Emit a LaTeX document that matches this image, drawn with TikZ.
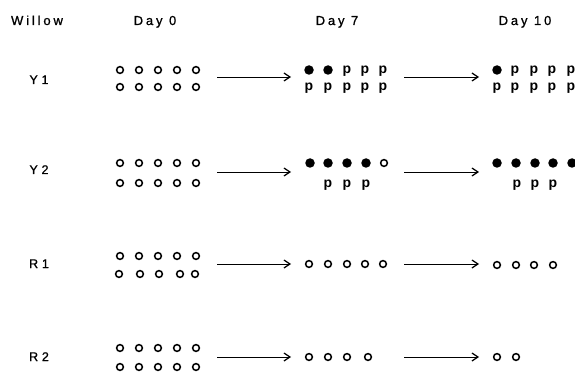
\documentclass[tikz,border=0pt]{standalone}
\usepackage{fontspec}
\setmainfont{Liberation Sans}
\usetikzlibrary{arrows.meta}
\begin{document}
\begin{tikzpicture}[x=1pt,y=-1pt,
  hdr/.style={font=\fontsize{13}{15}\selectfont\addfontfeature{LetterSpace=22,FakeBold=1}, inner sep=0, anchor=base},
  lbl/.style={font=\fontsize{12.5}{14}\selectfont\addfontfeature{LetterSpace=30,FakeBold=1}, inner sep=0, anchor=base},
  oc/.style={circle, draw, line width=1.5pt, minimum size=6.8pt, inner sep=0},
  fc/.style={circle, fill, minimum size=9.5pt, inner sep=0},
  pl/.style={font=\fontsize{14}{14}\selectfont\bfseries, inner sep=0, anchor=base},
  arr/.style={-{Straight Barb[length=6pt,width=8pt,line width=1.2pt]}, line width=0.9pt}]
\useasboundingbox (0,0) rectangle (575,374);

% headers
\node[hdr] (hw) at (37,25) {Willow};
\node[hdr] (h0) at (155,25) {Day 0};
\node[hdr] (h7) at (337,25) {Day 7};
\node[hdr] (h10) at (525,25) {Day 10};

% row labels
\node[lbl] (ly1) at (39,84) {Y1};
\node[lbl] (ly2) at (39,174) {Y2};
\node[lbl] (lr1) at (39,268) {R1};
\node[lbl] (lr2) at (39,361) {R2};

% Day 0 groups
\foreach \r/\yt in {y1/70, y2/163, r1/256, r2/348} {
  \foreach \x [count=\i] in {120,139,158,177,196} {
    \node[oc] (\r-a-t\i) at (\x,\yt) {};
  }
}
\foreach \r/\yb in {y1/87, y2/183, r2/367} {
  \foreach \x [count=\i] in {120,139,158,177,196} {
    \node[oc] (\r-a-b\i) at (\x,\yb) {};
  }
}
\foreach \x [count=\i] in {119,140,159,180,195} {
  \node[oc] (r1-a-b\i) at (\x,274) {};
}

% arrows
\foreach \r/\y in {y1/77, y2/172, r1/264, r2/357} {
  \coordinate (\r-s1) at (217,\y);
  \coordinate (\r-e1) at (291,\y);
  \coordinate (\r-s2) at (404,\y);
  \coordinate (\r-e2) at (479,\y);
  \draw[arr] (\r-s1) -- (\r-e1);
  \draw[arr] (\r-s2) -- (\r-e2);
}

% Y1 Day 7
\node[fc] (y1-b-t1) at (309,70) {};
\node[fc] (y1-b-t2) at (328,70) {};
\foreach \x [count=\i from 3] in {347,365,383} {
  \node[pl] (y1-b-t\i) at (\x,74) {p};
}
\foreach \x [count=\i] in {309,328,347,365,383} {
  \node[pl] (y1-b-b\i) at (\x,91) {p};
}
% Y1 Day 10
\node[fc] (y1-c-t1) at (497,70) {};
\foreach \x [count=\i from 2] in {515,534,552,571} {
  \node[pl] (y1-c-t\i) at (\x,74) {p};
}
\foreach \x [count=\i] in {497,515,534,552,571} {
  \node[pl] (y1-c-b\i) at (\x,91) {p};
}

% Y2 Day 7
\foreach \x [count=\i] in {310,328,347,366} {
  \node[fc] (y2-b-t\i) at (\x,163) {};
}
\node[oc] (y2-b-t5) at (384,163) {};
\foreach \x [count=\i] in {328,347,366} {
  \node[pl] (y2-b-b\i) at (\x,187) {p};
}
% Y2 Day 10
\foreach \x [count=\i] in {497,516,535,553,572} {
  \node[fc] (y2-c-t\i) at (\x,163) {};
}
\foreach \x [count=\i] in {517,535,553} {
  \node[pl] (y2-c-b\i) at (\x,187) {p};
}

% R1
\foreach \x [count=\i] in {309,328,347,365,383} {
  \node[oc] (r1-b\i) at (\x,264) {};
}
\foreach \x [count=\i] in {497,516,534,553} {
  \node[oc] (r1-c\i) at (\x,265) {};
}

% R2
\foreach \x [count=\i] in {309,328,347,368} {
  \node[oc] (r2-b\i) at (\x,357) {};
}
\foreach \x [count=\i] in {497,516} {
  \node[oc] (r2-c\i) at (\x,357) {};
}
\end{tikzpicture}
\end{document}
